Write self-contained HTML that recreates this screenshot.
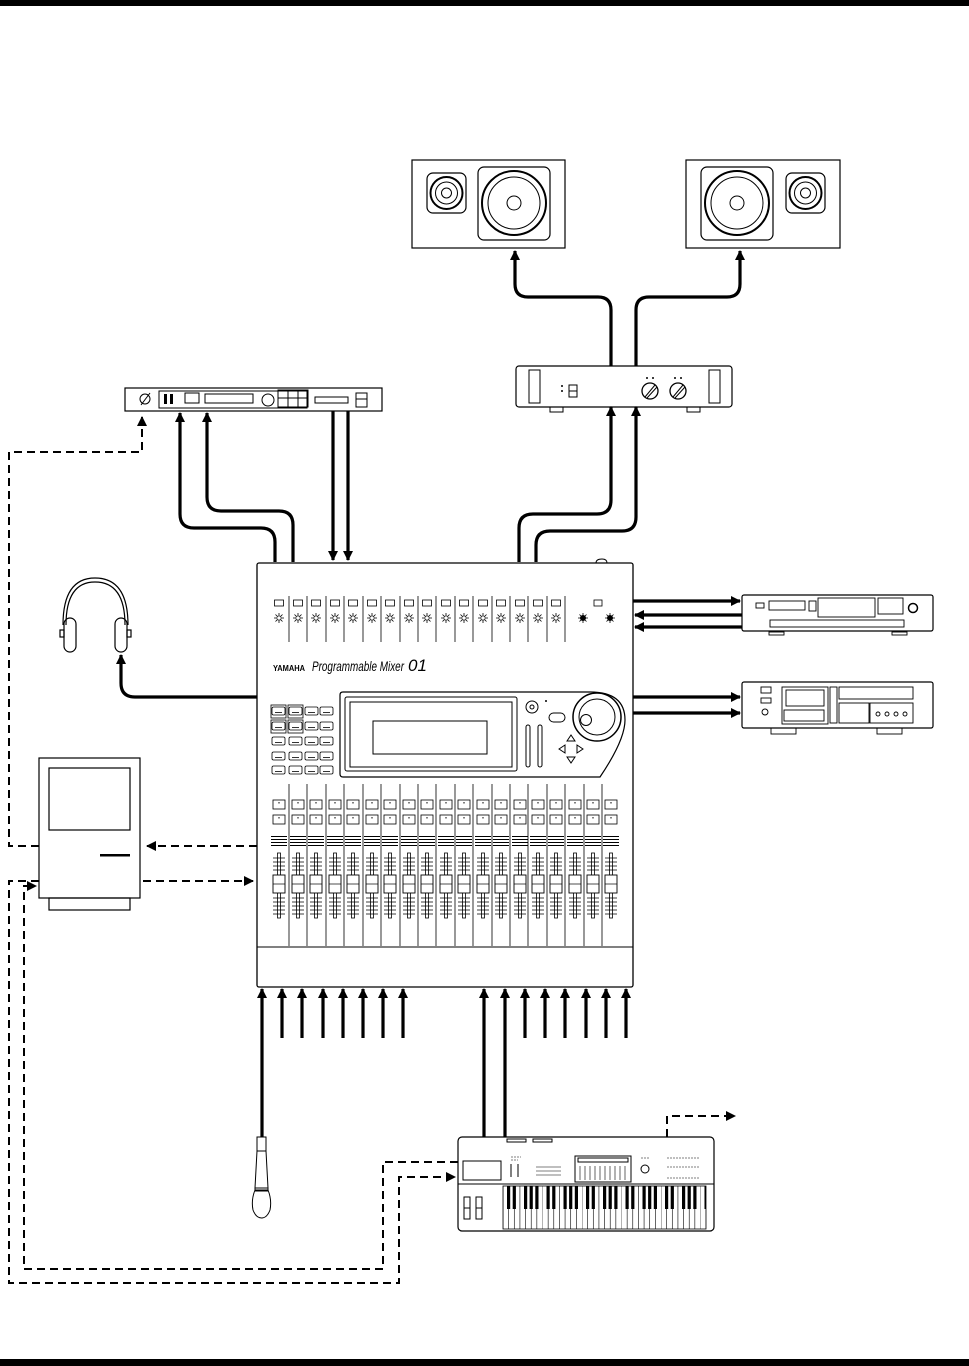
<!DOCTYPE html>
<html><head><meta charset="utf-8"><style>
html,body{margin:0;padding:0;background:#fff;}
svg{display:block;}
text{font-family:"Liberation Sans",sans-serif;}
</style></head><body>
<svg width="969" height="1366" viewBox="0 0 969 1366" xmlns="http://www.w3.org/2000/svg">
<defs>
<marker id="ah" viewBox="0 0 10 10" refX="9" refY="5" markerWidth="3.2" markerHeight="3.2" orient="auto"><path d="M0,0L10,5L0,10z" fill="#000"/></marker>
<marker id="ahd" viewBox="0 0 10 10" refX="9" refY="5" markerWidth="5" markerHeight="5" orient="auto"><path d="M0,0L10,5L0,10z" fill="#000"/></marker>
<g id="sun"><circle cx="0" cy="0" r="2.2" fill="none" stroke="#000" stroke-width="0.8"/><path d="M0,-5V-3M0,3V5M-5,0H-3M3,0H5M-3.5,-3.5L-2,-2M2,2L3.5,3.5M-3.5,3.5L-2,2M2,-2L3.5,-3.5" stroke="#000" stroke-width="0.8"/></g>
<g id="top"><rect x="-4.5" y="-3" width="9" height="6" fill="none" stroke="#000" stroke-width="0.8"/><use href="#sun" y="15"/></g>
<g id="fad">
<rect x="-6" y="0" width="12" height="9" fill="none" stroke="#000" stroke-width="0.8"/><rect x="-0.5" y="2" width="1" height="1.5" fill="#000"/>
<rect x="-6" y="15" width="12" height="9" fill="none" stroke="#000" stroke-width="0.8"/><rect x="-0.5" y="17" width="1" height="1.5" fill="#000"/>
<path d="M-8,36.5H8M-8,39.5H8M-8,42.5H8M-8,45.5H8" stroke="#000" stroke-width="1" shape-rendering="crispEdges"/>
<rect x="-1.5" y="53" width="3" height="65" fill="none" stroke="#000" stroke-width="0.8"/>
<path d="M-6,58H6M-6,62H6M-6,66H6M-6,70H6M-6,98H6M-6,102H6M-6,106H6M-6,110H6M-6,114H6" stroke="#000" stroke-width="0.7"/>
<rect x="-6" y="75" width="12" height="18" fill="#fff" stroke="#000" stroke-width="0.9"/><path d="M-6,84H6" stroke="#000" stroke-width="0.7"/>
</g>
<g id="btn"><rect x="0" y="0" width="13" height="8" rx="1.5" fill="none" stroke="#000" stroke-width="0.8"/><path d="M3,5.5H10" stroke="#000" stroke-width="0.8"/></g>
<pattern id="keys" x="503" y="0" width="39.5" height="1366" patternUnits="userSpaceOnUse">
<path d="M0,0V1366M5.64,0V1366M11.28,0V1366M16.93,0V1366M22.57,0V1366M28.21,0V1366M33.85,0V1366" stroke="#000" stroke-width="0.6"/>
<rect x="4" y="0" width="3.2" height="1209" fill="#000"/><rect x="9.7" y="0" width="3.2" height="1209" fill="#000"/>
<rect x="21" y="0" width="3.2" height="1209" fill="#000"/><rect x="26.6" y="0" width="3.2" height="1209" fill="#000"/><rect x="32.3" y="0" width="3.2" height="1209" fill="#000"/>
</pattern>
</defs>

<rect x="0" y="0" width="969" height="6" fill="#000"/>
<rect x="0" y="1359" width="969" height="7" fill="#000"/>

<g fill="none" stroke="#000">
<rect x="412" y="160" width="153" height="88" stroke-width="1.2"/>
<rect x="427" y="173" width="39" height="40" rx="6" stroke-width="1.2"/>
<circle cx="446.5" cy="193" r="16" stroke-width="2"/><circle cx="446.5" cy="193" r="11"/><circle cx="446.5" cy="193" r="5"/>
<rect x="478" y="167" width="72" height="73" rx="6" stroke-width="1.2"/>
<circle cx="514" cy="203" r="32" stroke-width="2"/><circle cx="514" cy="203" r="26"/><circle cx="514" cy="203" r="7"/>
<rect x="686" y="160" width="154" height="88" stroke-width="1.2"/>
<rect x="786" y="173" width="39" height="40" rx="6" stroke-width="1.2"/>
<circle cx="805.5" cy="193" r="16" stroke-width="2"/><circle cx="805.5" cy="193" r="11"/><circle cx="805.5" cy="193" r="5"/>
<rect x="701" y="167" width="72" height="73" rx="6" stroke-width="1.2"/>
<circle cx="737" cy="203" r="32" stroke-width="2"/><circle cx="737" cy="203" r="26"/><circle cx="737" cy="203" r="7"/>
</g>

<g fill="none" stroke="#000" stroke-width="1">
<rect x="516" y="366" width="216" height="41" rx="3" stroke-width="1.2"/>
<rect x="529" y="370" width="11" height="33"/><rect x="709" y="370" width="11" height="33"/>
<rect x="569" y="385" width="8" height="12"/><path d="M569,391H577"/>
<circle cx="650" cy="391" r="8" stroke-width="1.3"/><path d="M645,397L655,385M647,398L657,387"/>
<circle cx="678" cy="391" r="8" stroke-width="1.3"/><path d="M673,397L683,385M675,398L685,387"/>
<rect x="550" y="407" width="13" height="5"/><rect x="687" y="407" width="13" height="5"/>
</g>
<g fill="#000"><circle cx="562" cy="386" r="1"/><circle cx="562" cy="391" r="1"/><circle cx="647" cy="378" r="1"/><circle cx="653" cy="378" r="1"/><circle cx="675" cy="378" r="1"/><circle cx="681" cy="378" r="1"/></g>

<g fill="none" stroke="#000" stroke-width="1">
<rect x="125" y="388" width="257" height="23" stroke-width="1.2"/>
<rect x="159" y="391" width="148" height="17"/>
<circle cx="145" cy="399" r="5"/><path d="M141,405L150,393"/>
<rect x="185" y="393" width="14" height="10"/>
<rect x="205" y="394" width="48" height="9"/>
<circle cx="268" cy="400" r="6"/>
<rect x="278" y="390" width="30" height="17"/><path d="M288,390V407M298,390V407M278,398H308"/>
<rect x="315" y="397" width="33" height="6"/>
<rect x="356" y="393" width="11" height="14"/><path d="M356,399H367"/>
</g>
<rect x="164" y="394" width="3" height="10" fill="#000"/><rect x="170" y="394" width="3" height="10" fill="#000"/>

<g fill="none" stroke="#000" stroke-width="3.2" marker-end="url(#ah)">
<path d="M611,366V310Q611,297 598,297H528Q515,297 515,284V251"/>
<path d="M636,366V310Q636,297 649,297H727Q740,297 740,284V251"/>
<path d="M519,562V528Q519,514 533,514H597Q611,514 611,500V407"/>
<path d="M536,562V545Q536,531 550,531H622Q636,531 636,517V407"/>
<path d="M275,562V542Q275,528 261,528H194Q180,528 180,514V413"/>
<path d="M293,562V525Q293,511 279,511H221Q207,511 207,497V413"/>
<path d="M333,411V560"/><path d="M348,411V560"/>
<path d="M257,697H135Q121,697 121,683V655"/>
<path d="M633,601H740"/><path d="M742,615H635"/><path d="M742,627H635"/>
<path d="M633,697H740"/><path d="M633,713H740"/>
<path d="M262,1137V989"/>
<path d="M282,1038V989"/><path d="M302,1038V989"/><path d="M323,1038V989"/><path d="M343,1038V989"/><path d="M363,1038V989"/><path d="M383,1038V989"/><path d="M403,1038V989"/>
<path d="M484,1137V989"/><path d="M505,1137V989"/>
<path d="M525,1038V989"/><path d="M545,1038V989"/><path d="M565,1038V989"/><path d="M586,1038V989"/><path d="M606,1038V989"/><path d="M626,1038V989"/>
</g>

<g fill="none" stroke="#000" stroke-width="2" stroke-dasharray="8,5">
<path d="M257,846H147" marker-end="url(#ahd)"/>
<path d="M143,881H253" marker-end="url(#ahd)"/>
<path d="M39,846H9V452H142V417" marker-end="url(#ahd)"/>
<path d="M39,881H9V1283H399V1177H455" marker-end="url(#ahd)"/>
<path d="M458,1162H383V1269H24V886H36" marker-end="url(#ahd)"/>
<path d="M667,1137V1116H735" marker-end="url(#ahd)"/>
</g>

<g fill="none" stroke="#000" stroke-width="1.2">
<path d="M63,625Q63,578 95,578Q128,578 128,625"/><path d="M66,625Q66,582 95,582Q125,582 125,625"/>
<rect x="64" y="618" width="12" height="34" rx="6"/><rect x="115" y="618" width="12" height="34" rx="6"/>
<rect x="60" y="630" width="4" height="7"/><rect x="127" y="630" width="4" height="7"/>
</g>

<g fill="none" stroke="#000" stroke-width="1.2">
<rect x="39" y="758" width="101" height="140"/>
<rect x="49" y="768" width="81" height="62"/>
<rect x="49" y="898" width="81" height="12"/>
</g>
<rect x="100" y="854" width="30" height="2.5" fill="#000"/>

<g fill="none" stroke="#000" stroke-width="0.9">
<rect x="742" y="595" width="191" height="36" rx="2" stroke-width="1.2"/>
<rect x="756" y="603" width="8" height="5"/><rect x="769" y="601" width="36" height="9"/><rect x="809" y="601" width="7" height="10"/>
<rect x="818" y="598" width="57" height="19"/>
<rect x="878" y="598" width="25" height="16"/>
<circle cx="913" cy="608" r="4.5" stroke-width="1.5"/>
<rect x="770" y="620" width="134" height="7"/>
<rect x="769" y="632" width="15" height="3"/><rect x="892" y="632" width="15" height="3"/>
</g>
<g fill="none" stroke="#000" stroke-width="0.9">
<rect x="742" y="682" width="191" height="46" rx="2" stroke-width="1.2"/>
<rect x="761" y="687" width="10" height="6"/><rect x="761" y="698" width="10" height="5"/>
<circle cx="765" cy="712" r="3"/>
<rect x="782" y="687" width="46" height="37"/><rect x="786" y="690" width="38" height="16"/><rect x="784" y="710" width="40" height="11"/>
<rect x="830" y="687" width="7" height="36"/>
<rect x="839" y="687" width="74" height="12"/>
<rect x="839" y="703" width="30" height="20"/><rect x="870" y="703" width="43" height="20"/>
<circle cx="878" cy="714" r="2"/><circle cx="887" cy="714" r="2"/><circle cx="896" cy="714" r="2"/><circle cx="905" cy="714" r="2"/>
<rect x="771" y="728" width="25" height="6"/><rect x="877" y="728" width="25" height="6"/>
</g>

<g fill="none" stroke="#000">
<rect x="257" y="563" width="376" height="424" rx="2" stroke-width="1.3"/>
<path d="M257,947H633" stroke-width="1"/>
<path d="M596,563Q596,559 602,559Q607,559 607,563" stroke-width="1"/>
</g>
<g stroke="#000" stroke-width="0.8">
<path d="M289,596V642M307,596V642M326,596V642M344,596V642M363,596V642M381,596V642M400,596V642M418,596V642M436,596V642M455,596V642M473,596V642M492,596V642M510,596V642M528,596V642M547,596V642M565,596V642"/>
<path d="M289,784V946M307,784V946M326,784V946M344,784V946M363,784V946M381,784V946M400,784V946M418,784V946M436,784V946M455,784V946M473,784V946M492,784V946M510,784V946M528,784V946M547,784V946M565,784V946M584,784V946M602,784V946"/>
</g>
<use href="#top" x="279" y="603"/><use href="#top" x="298" y="603"/><use href="#top" x="316" y="603"/><use href="#top" x="335" y="603"/>
<use href="#top" x="353" y="603"/><use href="#top" x="372" y="603"/><use href="#top" x="390" y="603"/><use href="#top" x="409" y="603"/>
<use href="#top" x="427" y="603"/><use href="#top" x="446" y="603"/><use href="#top" x="464" y="603"/><use href="#top" x="483" y="603"/>
<use href="#top" x="501" y="603"/><use href="#top" x="520" y="603"/><use href="#top" x="538" y="603"/><use href="#top" x="556" y="603"/>
<rect x="594" y="600" width="8" height="6" fill="none" stroke="#000" stroke-width="0.8"/>
<use href="#sun" x="583" y="618"/><use href="#sun" x="610" y="618"/>
<circle cx="583" cy="618" r="3" fill="#000"/><circle cx="610" cy="618" r="3" fill="#000"/>

<text x="273" y="671" font-size="8" font-weight="bold" textLength="32" lengthAdjust="spacingAndGlyphs">YAMAHA</text>
<text x="312" y="671" font-size="14" font-style="italic" font-family="Liberation Serif, serif" textLength="92" lengthAdjust="spacingAndGlyphs">Programmable Mixer</text>
<text x="408" y="671" font-size="17" font-style="italic">01</text>

<g fill="none" stroke="#000" stroke-width="1">
<path d="M343,692H590Q625,692 625,720Q625,740 600,777H343Q340,777 340,774V695Q340,692 343,692Z" stroke-width="1.2"/>
<rect x="345" y="697" width="172" height="74" rx="2"/>
<rect x="350" y="702" width="162" height="65"/>
<rect x="373" y="721" width="114" height="33"/>
<circle cx="532" cy="707" r="6"/><circle cx="532" cy="707" r="2"/>
<rect x="526" y="725" width="4" height="42" rx="2"/><rect x="538" y="725" width="4" height="42" rx="2"/>
<rect x="549" y="713" width="16" height="9" rx="4.5"/>
<circle cx="597" cy="717" r="24" stroke-width="1.5"/><circle cx="597" cy="717" r="18"/><circle cx="586" cy="720" r="5.5"/>
<path d="M567,741L571,735L575,741Z"/><path d="M567,757L571,763L575,757Z"/><path d="M559,749L565,745V753Z"/><path d="M583,749L577,745V753Z"/>
</g>
<circle cx="546" cy="701" r="1" fill="#000"/>
<g fill="none" stroke="#000" stroke-width="0.8">
<rect x="271" y="705" width="15" height="13"/><rect x="288" y="705" width="15" height="13"/>
<rect x="271" y="720" width="15" height="13"/><rect x="288" y="720" width="15" height="13"/>
</g>
<use href="#btn" x="272" y="707"/><use href="#btn" x="289" y="707"/><use href="#btn" x="305" y="707"/><use href="#btn" x="320" y="707"/>
<use href="#btn" x="272" y="722"/><use href="#btn" x="289" y="722"/><use href="#btn" x="305" y="722"/><use href="#btn" x="320" y="722"/>
<use href="#btn" x="272" y="737"/><use href="#btn" x="289" y="737"/><use href="#btn" x="305" y="737"/><use href="#btn" x="320" y="737"/>
<use href="#btn" x="272" y="752"/><use href="#btn" x="289" y="752"/><use href="#btn" x="305" y="752"/><use href="#btn" x="320" y="752"/>
<use href="#btn" x="272" y="766"/><use href="#btn" x="289" y="766"/><use href="#btn" x="305" y="766"/><use href="#btn" x="320" y="766"/>

<use href="#fad" x="279" y="800"/><use href="#fad" x="298" y="800"/><use href="#fad" x="316" y="800"/><use href="#fad" x="335" y="800"/>
<use href="#fad" x="353" y="800"/><use href="#fad" x="372" y="800"/><use href="#fad" x="390" y="800"/><use href="#fad" x="409" y="800"/>
<use href="#fad" x="427" y="800"/><use href="#fad" x="446" y="800"/><use href="#fad" x="464" y="800"/><use href="#fad" x="483" y="800"/>
<use href="#fad" x="501" y="800"/><use href="#fad" x="520" y="800"/><use href="#fad" x="538" y="800"/><use href="#fad" x="556" y="800"/>
<use href="#fad" x="575" y="800"/><use href="#fad" x="593" y="800"/><use href="#fad" x="611" y="800"/>

<g fill="none" stroke="#000" stroke-width="1">
<rect x="257" y="1137" width="9" height="14"/>
<path d="M257,1151L255,1188H268L266,1151"/>
<path d="M255,1190Q251,1200 253,1210Q256,1218 261.5,1218Q267,1218 270,1210Q272,1200 268,1190Z"/>
<path d="M255,1188H268V1191H255Z"/>
</g>

<g fill="none" stroke="#000" stroke-width="1">
<rect x="458" y="1137" width="256" height="94" rx="4" stroke-width="1.2"/>
<path d="M458,1184H714"/>
<rect x="463" y="1161" width="38" height="19"/>
<rect x="507" y="1139" width="19" height="3"/><rect x="533" y="1139" width="19" height="3"/>
<rect x="575" y="1156" width="56" height="26"/><rect x="578" y="1158" width="50" height="4"/>
<circle cx="645" cy="1169" r="4"/>
<rect x="464" y="1197" width="6" height="22"/><rect x="476" y="1197" width="6" height="22"/><path d="M464,1208H470M476,1208H482"/>
<path d="M511,1164V1177M518,1164V1177"/>
</g>
<g fill="none" stroke="#000" stroke-width="0.6">
<path d="M536,1167H561M536,1171H561M536,1175H561M580,1166V1180M585,1166V1180M590,1166V1180M595,1166V1180M600,1166V1180M605,1166V1180M610,1166V1180M615,1166V1180M620,1166V1180M625,1166V1180"/>
<path d="M667,1158H700M667,1167H700M667,1178H700M641,1158H650" stroke-dasharray="2,1"/>
<path d="M511,1157H521M511,1160H518" stroke-dasharray="2,1"/>
</g>
<rect x="503" y="1186" width="203" height="43" fill="url(#keys)" stroke="#000" stroke-width="0.8"/>
</svg>
</body></html>
